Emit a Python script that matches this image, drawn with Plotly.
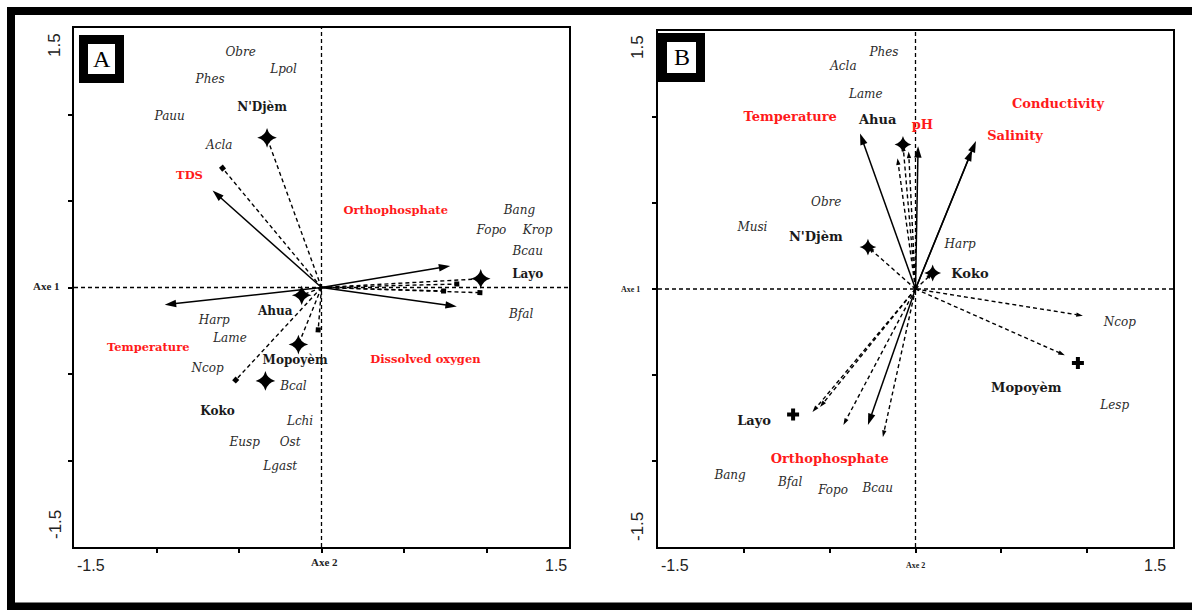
import plotly.graph_objects as go

W, H = 1192, 610

# ---------------- Panel A : ordination scores ----------------
a_var_names = ["TDS", "Temperature", "Orthophosphate", "Dissolved oxygen"]
a_var_x = [-0.66, -0.95, 0.78, 0.82]
a_var_y = [0.56, -0.10, 0.125, -0.11]
a_var_lab_x = [-0.80, -1.05, 0.45, 0.63]
a_var_lab_y = [0.645, -0.35, 0.44, -0.42]

a_site_names = ["N'Djèm", "Ahua", "Mopoyèm", "Koko", "Layo"]
a_site_x = [-0.33, -0.12, -0.14, -0.34, 0.965]
a_site_y = [0.865, -0.045, -0.33, -0.54, 0.05]
a_site_lab_x = [-0.36, -0.28, -0.16, -0.63, 1.25]
a_site_lab_y = [1.04, -0.14, -0.425, -0.72, 0.07]

a_spp_names = ["Obre", "Lpol", "Phes", "Pauu", "Acla", "Bang", "Fopo", "Krop",
               "Bcau", "Bfal", "Harp", "Lame", "Ncop", "Bcal", "Lchi", "Eusp",
               "Ost", "Lgast"]
a_spp_x = [-0.49, -0.23, -0.675, -0.92, -0.62, 1.20, 1.03, 1.31,
           1.25, 1.21, -0.65, -0.555, -0.69, -0.17, -0.13, -0.465,
           -0.19, -0.25]
a_spp_y = [1.355, 1.26, 1.20, 0.985, 0.82, 0.44, 0.325, 0.325,
           0.205, -0.16, -0.195, -0.30, -0.47, -0.575, -0.78, -0.90,
           -0.90, -1.04]

# dashed projection vectors (end points)
a_vec_x = [-0.33, -0.60, -0.52, -0.14, -0.02, -0.12, 0.965, 0.96, 0.82, 0.74]
a_vec_y = [0.865, 0.69, -0.535, -0.33, -0.245, -0.045, 0.05, -0.03, 0.02, -0.02]

# ---------------- Panel B : ordination scores ----------------
b_var_names = ["Temperature", "pH", "Conductivity", "Salinity", "Orthophosphate"]
b_var_x = [-0.323, 0.015, 0.33, 0.352, -0.277]
b_var_y = [0.904, 0.83, 0.81, 0.86, -0.79]
b_var_lab_x = [-0.73, 0.04, 0.83, 0.58, -0.50]
b_var_lab_y = [0.995, 0.95, 1.07, 0.885, -0.99]

b_site_names = ["Ahua", "N'Djèm", "Koko", "Layo", "Mopoyèm"]
b_site_x = [-0.073, -0.277, 0.10, -0.713, 0.946]
b_site_y = [0.84, 0.244, 0.093, -0.73, -0.43]
b_site_lab_x = [-0.22, -0.58, 0.317, -0.94, 0.645]
b_site_lab_y = [0.98, 0.30, 0.08, -0.77, -0.58]

b_spp_names = ["Phes", "Acla", "Lame", "Obre", "Musi", "Harp", "Ncop", "Lesp",
               "Bang", "Bfal", "Fopo", "Bcau"]
b_spp_x = [-0.184, -0.42, -0.29, -0.52, -0.95, 0.26, 1.19, 1.16,
           -1.08, -0.73, -0.48, -0.22]
b_spp_y = [1.37, 1.29, 1.13, 0.50, 0.355, 0.255, -0.195, -0.68,
           -1.09, -1.13, -1.175, -1.16]

b_vec_x = [-0.073, -0.105, -0.04, -0.277, 0.10, 0.975, 0.87, -0.60, -0.556, -0.42, -0.19]
b_vec_y = [0.84, 0.76, 0.80, 0.244, 0.093, -0.155, -0.385, -0.715, -0.686, -0.79, -0.86]

# ---------------- helpers ----------------
def px(x):
    return x / W


def py(y):
    return 1 - y / H


SERIF = "Liberation Serif"
WIDE_SERIF = "DejaVu Serif"
SANS = "Liberation Sans"

fig = go.Figure()


def add_panel(xa, ya, var, site, spp, vec, site_symbol, vec_end, styles):
    var_names, var_x, var_y, var_lx, var_ly = var
    site_names, site_x, site_y, site_lx, site_ly = site
    spp_names, spp_x, spp_y = spp
    vec_x, vec_y = vec
    common = dict(xaxis=xa, yaxis=ya, showlegend=False, hoverinfo="skip")

    # dashed vectors from the origin
    for vx, vy in zip(vec_x, vec_y):
        fig.add_trace(go.Scatter(
            x=[0, vx], y=[0, vy], mode="lines+markers",
            line=dict(color="black", width=1.4, dash="4px,3px"),
            marker=dict(symbol=["circle", vec_end[0]], size=[0, vec_end[1]],
                        opacity=[0, 1], angleref="previous", color="black",
                        line=dict(width=0)),
            **common))

    # environmental variables: solid arrows
    for vx, vy in zip(var_x, var_y):
        fig.add_trace(go.Scatter(
            x=[0, vx], y=[0, vy], mode="lines+markers",
            line=dict(color="black", width=1.5),
            marker=dict(symbol=["circle", "arrow"], size=[0, 12],
                        opacity=[0, 1], angleref="previous", color="black",
                        line=dict(width=0)),
            **common))

    # sampling stations
    fig.add_trace(go.Scatter(
        x=site_x, y=site_y, mode="markers",
        marker=dict(symbol=site_symbol, size=styles["site_size"], color="black",
                    opacity=1, line=dict(width=0)),
        **common))

    # labels
    fig.add_trace(go.Scatter(
        x=spp_x, y=spp_y, mode="text", text=spp_names,
        textfont=dict(family=WIDE_SERIF, size=12, color="#2b2b2b", style="italic"),
        **common))
    fig.add_trace(go.Scatter(
        x=site_lx, y=site_ly, mode="text", text=site_names,
        textfont=dict(family=WIDE_SERIF, size=styles["site_font"], color="#1a1a1a",
                      weight="bold"),
        **common))
    fig.add_trace(go.Scatter(
        x=var_lx, y=var_ly, mode="text", text=var_names,
        textfont=dict(family=WIDE_SERIF, size=styles["var_font"], color="#ff1a1a",
                      weight="bold"),
        **common))


add_panel("x", "y",
          (a_var_names, a_var_x, a_var_y, a_var_lab_x, a_var_lab_y),
          (a_site_names, a_site_x, a_site_y, a_site_lab_x, a_site_lab_y),
          (a_spp_names, a_spp_x, a_spp_y),
          (a_vec_x, a_vec_y),
          "star-diamond", ("square", 5),
          dict(site_size=14, site_font=12, var_font=11.5))

add_panel("x2", "y2",
          (b_var_names, b_var_x, b_var_y, b_var_lab_x, b_var_lab_y),
          (b_site_names, b_site_x, b_site_y, b_site_lab_x, b_site_lab_y),
          (b_spp_names, b_spp_x, b_spp_y),
          (b_vec_x, b_vec_y),
          ["star-diamond", "star-diamond", "star-diamond", "cross", "cross"],
          ("arrow", 7),
          dict(site_size=[12, 12, 12, 10, 10], site_font=13, var_font=13))

axis_common = dict(range=[-1.5, 1.5], showgrid=False, zeroline=False,
                   showline=True, linecolor="black", linewidth=1.8, mirror=True,
                   ticks="outside", ticklen=4, tickwidth=1.5, tickcolor="black",
                   tickvals=[-1, -0.5, 0, 0.5, 1], showticklabels=False,
                   fixedrange=True)

fig.update_layout(
    width=W, height=H,
    margin=dict(l=0, r=0, t=0, b=0),
    paper_bgcolor="white", plot_bgcolor="white",
    xaxis=dict(domain=[px(74), px(569)], anchor="y", **axis_common),
    yaxis=dict(domain=[py(547), py(28)], anchor="x", **axis_common),
    xaxis2=dict(domain=[px(658), px(1173)], anchor="y2", **axis_common),
    yaxis2=dict(domain=[py(547), py(31)], anchor="x2", **axis_common),
)

shapes = []
# axes through the origin
for xr, yr in (("x", "y"), ("x2", "y2")):
    shapes.append(dict(type="line", xref=xr, yref=yr, x0=-1.5, x1=1.5, y0=0, y1=0,
                       line=dict(color="black", width=1.3, dash="4px,3px"), layer="below"))
    shapes.append(dict(type="line", xref=xr, yref=yr, x0=0, x1=0, y0=-1.5, y1=1.5,
                       line=dict(color="black", width=1.3, dash="4px,3px"), layer="below"))

# panel letter boxes
for (x0, x1, y0, y1) in ((83.5, 119.5, 39.5, 78.5), (662.5, 700.5, 37.5, 77.5)):
    shapes.append(dict(type="rect", xref="paper", yref="paper",
                       x0=px(x0), x1=px(x1), y0=py(y1), y1=py(y0),
                       line=dict(color="black", width=9), fillcolor="white"))

# outer frame of the figure
shapes.append(dict(type="rect", xref="paper", yref="paper",
                   x0=px(11), x1=px(1200), y0=py(606.5), y1=py(11),
                   line=dict(color="black", width=8)))
fig.update_layout(shapes=shapes)

annotations = []


def note(text, x, y, size, family=SANS, angle=0, bold=False, color="#222222"):
    annotations.append(dict(
        text=f"<b>{text}</b>" if bold else text,
        x=px(x), y=py(y), xref="paper", yref="paper",
        showarrow=False, textangle=angle, xanchor="center", yanchor="middle",
        font=dict(family=family, size=size, color=color)))


# panel letters
note("A", 101.5, 59, 24, family=SERIF, color="black")
note("B", 681.5, 57, 24, family=SERIF, color="black")

# panel A axis labels
note("1.5", 55, 45, 17, angle=-90)
note("-1.5", 55, 525, 17, angle=-90)
note("-1.5", 91, 565, 16)
note("1.5", 556, 565, 16)
note("Axe 2", 324, 562, 11, family=SERIF, bold=True)
note("Axe 1", 46, 286, 11, family=SERIF, bold=True)

# panel B axis labels
note("1.5", 637, 47, 17, angle=-90)
note("-1.5", 637, 527, 17, angle=-90)
note("-1.5", 675, 565, 16)
note("1.5", 1155, 565, 16)
note("Axe 2", 916, 565, 8, family=SERIF, bold=True)
note("Axe 1", 630, 289, 8, family=SERIF, bold=True)

fig.update_layout(annotations=annotations)

fig.write_html("out.html")
